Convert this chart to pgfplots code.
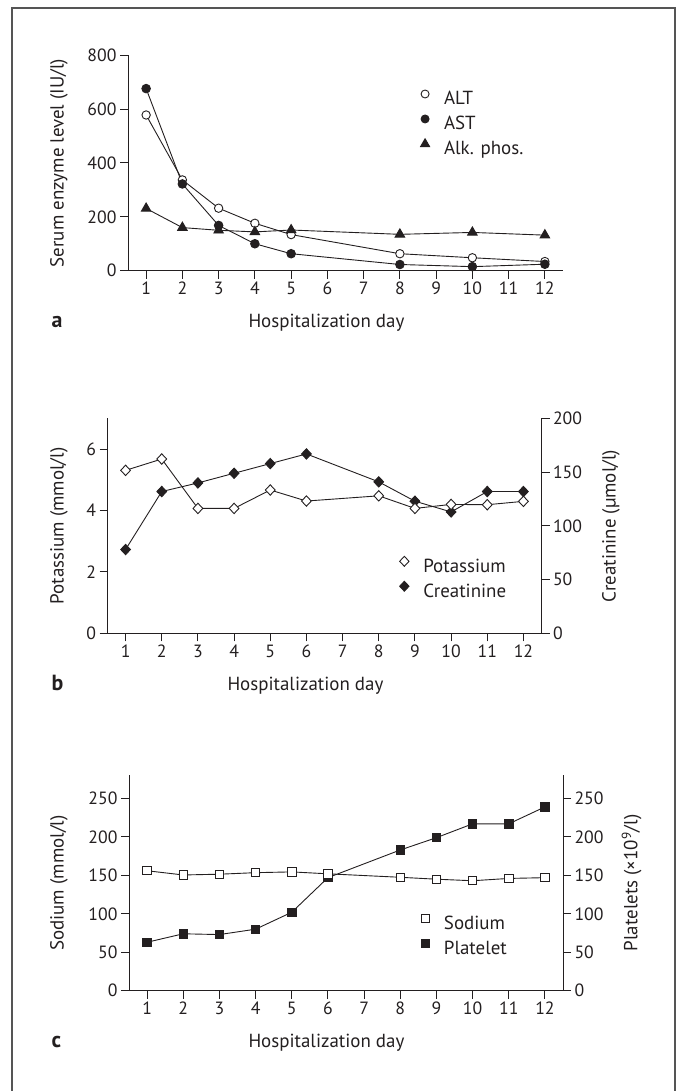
\documentclass[border=0pt]{standalone}
\usepackage{fontspec}
\setmainfont{PT Sans}
\usepackage{pgfplots}
\pgfplotsset{compat=1.18}
\definecolor{ink}{HTML}{231F20}
\definecolor{frame}{HTML}{555555}
\newcommand\tickfont{\fontsize{17.8}{19}\selectfont}
\newcommand\labfont{\fontsize{19}{21}\selectfont}
\newcommand\letfont{\fontsize{22}{24}\selectfont\bfseries}

\pgfplotsset{
  panel/.style={
    scale only axis, width=434bp, height=215bp,
    xmin=0.5, xmax=12.5, ymin=0,
    axis x line*=bottom, axis y line*=left,
    axis line style={-, line width=0.9bp, ink},
    xtick={1,...,12},
    tick align=outside, major tick length=8bp,
    tick style={line width=0.9bp, ink},
    tick label style={font=\tickfont, text=ink},
    /pgf/number format/assume math mode=true,
    clip=false,
    legend cell align=left,
    legend style={draw=none, fill=none, font=\labfont, text=ink,
      anchor=west, row sep=6.5bp, inner sep=0pt, column sep=0pt,
      nodes={inner sep=0pt}},
    legend image code/.code={
      \path[draw=none, fill=none] (-5bp,-1bp) rectangle (19bp,11bp);
      \draw[##1] plot coordinates {(0bp,5bp)};},
  },
  ser/.style={line width=0.9bp, ink, mark options={line width=0.9bp, solid}},
}

\begin{document}
\begin{tikzpicture}
\useasboundingbox (0,0) rectangle (680bp,1091bp);
\draw[line width=1.2bp, frame] (12bp,-3bp) -- (12bp,1083bp) -- (675bp,1083bp) -- (675bp,-3bp);

% ---------- panel a ----------
\begin{axis}[panel, at={(128bp,820.3bp)}, anchor=south west,
  width=435bp, height=215.5bp, ymax=800, ytick={0,200,...,800},
  legend style={at={(0.671,0.689)}}]
\addplot[ser, mark=*, mark size=4.2bp, mark options={fill=white}, forget plot]
  coordinates {(1,578) (2,337) (3,232) (4,176) (5,134) (8,63) (10,48) (12,34)};
\addplot[ser, mark=*, mark size=4.3bp, mark options={fill=ink}, forget plot]
  coordinates {(1,676) (2,322) (3,168) (4,100) (5,63) (8,23) (10,15) (12,24)};
\addplot[ser, mark=triangle*, mark size=5.5bp, mark options={fill=ink}, forget plot]
  coordinates {(1,231) (2,160) (3,150) (4,144) (5,151) (8,135) (10,142) (12,132)};
\addlegendimage{ink, mark=*, mark size=4bp, mark options={fill=white, line width=0.9bp}}
\addlegendentry{ALT}
\addlegendimage{ink, mark=*, mark size=4bp, mark options={fill=ink, line width=0.9bp}}
\addlegendentry{AST}
\addlegendimage{ink, mark=triangle*, mark size=5.2bp, mark options={fill=ink, line width=0.9bp}}
\addlegendentry{Alk. phos.}
\end{axis}
\node[rotate=90, font=\labfont, text=ink] at (59bp,928bp) {Serum enzyme level (IU/l)};
\node[anchor=base west, font=\labfont, text=ink] at (245bp,763.3bp) {Hospitalization day};
\node[anchor=base west, font=\letfont, text=ink] at (48bp,763.3bp) {a};

% ---------- panel b ----------
\begin{axis}[panel, at={(107.5bp,457.7bp)}, anchor=south west,
  height=214.8bp, axis y line*=right, ymax=200, ytick={0,50,...,200}]
\addplot[ser, mark=diamond*, mark size=5.2bp, mark options={fill=ink, xscale=1.25}]
  coordinates {(1,78) (2,132) (3,140) (4,149) (5,158) (6,167) (8,141) (9,123) (10,113) (11,132) (12,132)};
\end{axis}
\begin{axis}[panel, at={(107.5bp,457.7bp)}, anchor=south west,
  height=214.8bp, axis x line=none, ymax=7, ytick={0,2,4,6},
  legend style={at={(0.672,0.262)}}]
\addplot[ser, mark=diamond*, mark size=5.2bp, mark options={fill=white, xscale=1.25}, forget plot]
  coordinates {(1,5.31) (2,5.68) (3,4.07) (4,4.07) (5,4.67) (6,4.31) (8,4.48) (9,4.07) (10,4.2) (11,4.19) (12,4.3)};
\addlegendimage{ink, mark=diamond*, mark size=5bp, mark options={fill=white, xscale=1.25, line width=0.9bp}}
\addlegendentry{Potassium}
\addlegendimage{ink, mark=diamond*, mark size=5bp, mark options={fill=ink, xscale=1.25, line width=0.9bp}}
\addlegendentry{Creatinine}
\end{axis}
\node[rotate=90, font=\labfont, text=ink] at (59bp,565bp) {Potassium (mmol/l)};
\node[rotate=90, font=\labfont, text=ink] at (611bp,565bp) {Creatinine (µmol/l)};
\node[anchor=base west, font=\labfont, text=ink] at (224bp,400.7bp) {Hospitalization day};
\node[anchor=base west, font=\letfont, text=ink] at (48bp,400.7bp) {b};

% ---------- panel c ----------
\begin{axis}[panel, at={(129bp,100.3bp)}, anchor=south west,
  height=215.3bp, ymax=280, ytick={0,50,...,250},
  legend style={at={(0.670,0.261)}}]
\addplot[ser, mark=square*, mark size=4.2bp, mark options={fill=ink}, forget plot]
  coordinates {(1,63) (2,74) (3,73) (4,80) (5,102) (6,147) (8,183) (9,199) (10,217) (11,217) (12,239)};
\addplot[ser, mark=square*, mark size=4.2bp, mark options={fill=white}, forget plot]
  coordinates {(1,156) (2,150.5) (3,151.5) (4,153.5) (5,154.5) (6,152) (8,147.5) (9,145) (10,143) (11,146) (12,147)};
\addlegendimage{ink, mark=square*, mark size=4bp, mark options={fill=white, line width=0.9bp}}
\addlegendentry{Sodium}
\addlegendimage{ink, mark=square*, mark size=4bp, mark options={fill=ink, line width=0.9bp}}
\addlegendentry{Platelet}
\end{axis}
\begin{axis}[panel, at={(129bp,100.3bp)}, anchor=south west,
  height=215.3bp, axis x line=none, axis y line*=right, ymax=280, ytick={0,50,...,250}]
\end{axis}
\node[rotate=90, font=\labfont, text=ink] at (59bp,208bp) {Sodium (mmol/l)};
\node[rotate=90, font=\labfont, text=ink] at (631.5bp,208bp) {Platelets (×10\textsuperscript{9}/l)};
\node[anchor=base west, font=\labfont, text=ink] at (245bp,43.3bp) {Hospitalization day};
\node[anchor=base west, font=\letfont, text=ink] at (48bp,43.3bp) {c};
\end{tikzpicture}
\end{document}
